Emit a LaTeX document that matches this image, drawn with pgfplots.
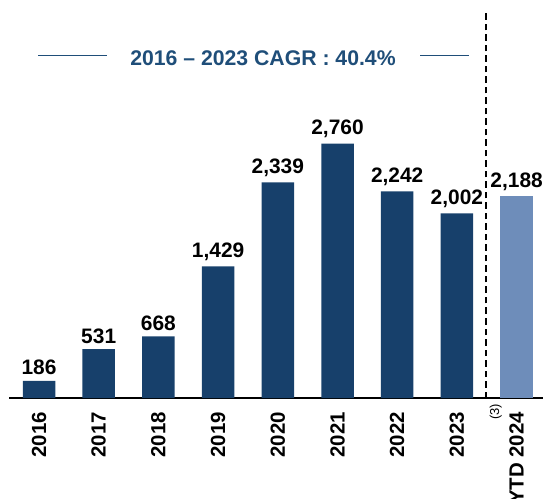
\documentclass[border=0pt]{standalone}
\usepackage{fontspec}
\setmainfont{Liberation Sans}
\usepackage{pgfplots}
\pgfplotsset{compat=1.18}
\definecolor{darkbar}{HTML}{17406B}
\definecolor{lightbar}{HTML}{6E8DBA}
\definecolor{titleblue}{HTML}{1F4E79}
\newcommand{\footmark}{\makebox[0pt][c]{\raisebox{1.2em}[0pt][0pt]{\fontsize{13}{13}\selectfont\mdseries(3)}}}
\begin{document}
\begin{tikzpicture}
\begin{axis}[
  name=ax,
  scale only axis,
  width=533.7bp, height=384.5bp,
  xmin=-0.4975, xmax=8.442,
  ymin=0, ymax=4172,
  axis x line=bottom,
  axis y line=none,
  x axis line style={-, line width=1.6bp, black},
  xtick={0,1,2,3,4,5,6,7,8},
  xticklabels={2016,2017,2018,2019,2020,2021,2022,2023,{YTD 2024\footmark}},
  xtick style={draw=none},
  xticklabel style={rotate=90, anchor=east, inner xsep=0pt, inner ysep=0pt, xshift=-9.5bp, font=\fontsize{20.5}{20.5}\selectfont\bfseries},
  ytick=\empty,
  ybar, bar width=32.5bp, bar shift=0pt,
  point meta=explicit symbolic,
  nodes near coords={\pgfplotspointmeta},
  nodes near coords style={anchor=south, inner xsep=0pt, inner ysep=5.5bp, font=\fontsize{21}{21}\selectfont\bfseries, black},
  clip=false,
]
\addplot[fill=darkbar, draw=none] coordinates {
 (0,186) [186]
 (1,531) [531]
 (2,668) [668]
 (3,1429) [1,429]
 (4,2339) [2,339]
 (5,2760) [2,760]
 (6,2242) [2,242]
 (7,2002) [2,002]
};
\addplot[fill=lightbar, draw=none] coordinates {
 (8,2188) [2,188]
};
\draw[black, line width=1.6bp, dash pattern=on 6.5bp off 4bp] (axis cs:7.487,0) -- (axis cs:7.487,4172);
\end{axis}
\draw[titleblue, line width=0.9bp] ([shift={(28.7bp,343bp)}]ax.south west) -- ([shift={(97.7bp,343bp)}]ax.south west);
\draw[titleblue, line width=0.9bp] ([shift={(410.7bp,343bp)}]ax.south west) -- ([shift={(459.7bp,343bp)}]ax.south west);
\node[titleblue, font=\fontsize{21.3}{21.3}\selectfont\bfseries, anchor=center, inner sep=0pt] at ([shift={(253.7bp,340bp)}]ax.south west) {2016 – 2023 CAGR : 40.4\%};
\pgfresetboundingbox
\path[use as bounding box] ([shift={(-9.3bp,-101bp)}]ax.south west) rectangle ([shift={(533.7bp,398bp)}]ax.south west);
\end{tikzpicture}
\end{document}
